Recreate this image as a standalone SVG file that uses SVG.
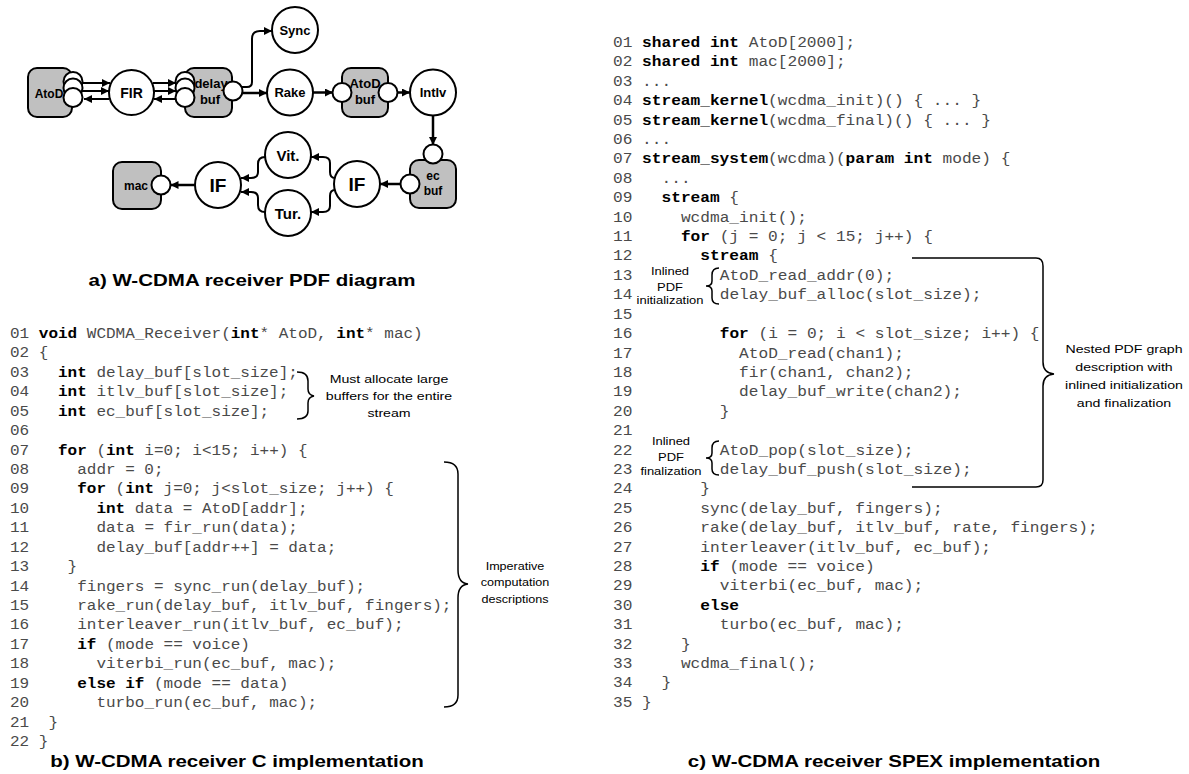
<svg xmlns="http://www.w3.org/2000/svg" width="1189" height="774" viewBox="0 0 1189 774">
<style>
  .lbl{font-family:"Liberation Sans",Arial,sans-serif;font-weight:bold;fill:#000;text-anchor:middle}
  .box{fill:#c0c0c0;stroke:#000;stroke-width:2}
  .node{fill:#fff;stroke:#000;stroke-width:2}
  .port{fill:#fff;stroke:#000;stroke-width:2}
  .edge{fill:none;stroke:#000;stroke-width:2;marker-end:url(#ah)}
  .code{font-family:"Liberation Mono","Courier New",monospace;font-size:15px;fill:#4a4a4a}
  .k{font-weight:bold;fill:#000}
  .note{font-family:"Liberation Sans",Arial,sans-serif;font-size:11.8px;fill:#000;text-anchor:middle}
  .title{font-family:"Liberation Sans",Arial,sans-serif;font-size:17.1px;font-weight:bold;fill:#000;text-anchor:middle}
  .brace{fill:none;stroke:#000;stroke-width:1.5}
</style>
<defs>
  <marker id="ah" viewBox="0 0 10 10" refX="10" refY="5" markerWidth="9" markerHeight="8" markerUnits="userSpaceOnUse" orient="auto"><path d="M0,0 L10,5 L0,10 z" fill="#000"/></marker>
</defs>
<rect width="1189" height="774" fill="#fff"/>

<!-- connectors of the PDF graph -->
<g id="connectors">
  <path class="edge" d="M82,83 H110"/>
  <path class="edge" d="M82,91 H109"/>
  <path class="edge" d="M109,99 H84"/>
  <path class="edge" d="M153,83 H176"/>
  <path class="edge" d="M153,91 H176"/>
  <path class="edge" d="M176,99 H154"/>
  <path class="edge" d="M242,87 H247 Q252,87 252,82 V39 Q252,31 260,31 H272"/>
  <path class="edge" d="M242.5,93 H267" style="stroke-width:2.5"/>
  <path class="edge" d="M313,92.5 H333" style="stroke-width:2.5"/>
  <path class="edge" d="M397.5,92.5 H410" style="stroke-width:2.5"/>
  <path class="edge" d="M433,115.5 V145" style="stroke-width:2.5"/>
  <path class="edge" d="M400.5,184 H380" style="stroke-width:2.5"/>
  <path class="edge" d="M335,178 Q330,178 330,172 V163 Q330,157 323,157 H311"/>
  <path class="edge" d="M335,190 Q330,190 330,196 V206 Q330,212 323,212 H311"/>
  <path class="edge" d="M265,157 Q258,157 258,164 V172 Q258,178 251,178 H241"/>
  <path class="edge" d="M265,212 Q258,212 258,205 V198 Q258,192 251,192 H241"/>
  <path class="edge" d="M195,185 H170.5" style="stroke-width:2.5"/>
</g>

<!-- PDF graph nodes -->
<g id="atod">
  <rect class="box" x="28" y="68" width="44" height="49" rx="9"/>
  <text class="lbl" x="49" y="97.5" font-size="12">AtoD</text>
  <circle class="port" cx="73" cy="81.5" r="9.5"/>
  <circle class="port" cx="73" cy="88" r="9.5"/>
  <circle class="port" cx="73" cy="97.5" r="9.5"/>
</g>
<g id="fir">
  <circle class="node" cx="131.5" cy="92.5" r="22.5"/>
  <text class="lbl" x="131.5" y="97.5" font-size="14">FIR</text>
</g>
<g id="delay-buf">
  <rect class="box" x="185" y="68" width="47" height="49" rx="9"/>
  <text class="lbl" x="211" y="88" font-size="13">delay</text>
  <text class="lbl" x="210" y="104" font-size="13">buf</text>
  <circle class="port" cx="185" cy="81.5" r="9.5"/>
  <circle class="port" cx="185" cy="88" r="9.5"/>
  <circle class="port" cx="185" cy="97.5" r="9.5"/>
  <circle class="port" cx="233" cy="91" r="9.5"/>
</g>
<g id="sync">
  <circle class="node" cx="295" cy="30" r="23"/>
  <text class="lbl" x="295" y="34.5" font-size="13">Sync</text>
</g>
<g id="rake">
  <circle class="node" cx="290" cy="92.5" r="23"/>
  <text class="lbl" x="290" y="97" font-size="13">Rake</text>
</g>
<g id="atod-buf">
  <rect class="box" x="342" y="68" width="46" height="49" rx="9"/>
  <text class="lbl" x="365" y="88" font-size="13">AtoD</text>
  <text class="lbl" x="365" y="104" font-size="13">buf</text>
  <circle class="port" cx="342" cy="92.5" r="9.5"/>
  <circle class="port" cx="388" cy="92.5" r="9.5"/>
</g>
<g id="intlv">
  <circle class="node" cx="433" cy="92.5" r="23"/>
  <text class="lbl" x="433" y="97" font-size="13">Intlv</text>
</g>
<g id="ec-buf">
  <rect class="box" x="410" y="160" width="46" height="48" rx="9"/>
  <text class="lbl" x="433" y="180" font-size="12">ec</text>
  <text class="lbl" x="433" y="195" font-size="12">buf</text>
  <circle class="port" cx="433" cy="154" r="9.5"/>
  <circle class="port" cx="410" cy="184" r="9.5"/>
</g>
<g id="if-split">
  <circle class="node" cx="357" cy="184" r="23"/>
  <text class="lbl" x="357" y="191" font-size="19">IF</text>
</g>
<g id="vit">
  <circle class="node" cx="288" cy="155" r="23"/>
  <text class="lbl" x="288" y="160.5" font-size="15">Vit.</text>
</g>
<g id="tur">
  <circle class="node" cx="288" cy="213" r="23"/>
  <text class="lbl" x="288" y="218.5" font-size="15">Tur.</text>
</g>
<g id="if-join">
  <circle class="node" cx="218" cy="185" r="23"/>
  <text class="lbl" x="218" y="192" font-size="19">IF</text>
</g>
<g id="mac">
  <rect class="box" x="113" y="162" width="48" height="47" rx="9"/>
  <text class="lbl" x="136" y="189.5" font-size="12">mac</text>
  <circle class="port" cx="161" cy="185" r="9.5"/>
</g>

<text class="title" transform="translate(252,286) scale(1.2,1)">a) W-CDMA receiver PDF diagram</text>

<!-- C implementation listing (monospace, 9.6 px per column) -->
<g id="c-listing" class="code" transform="translate(10,0) scale(1.0667,1)">
  <text x="0" y="338">01 <tspan class="k">void</tspan> WCDMA_Receiver(<tspan class="k">int</tspan>* AtoD, <tspan class="k">int</tspan>* mac)</text>
  <text x="0" y="357.4">02 {</text>
  <text x="0" y="376.9">03<tspan x="45"><tspan class="k">int</tspan> delay_buf[slot_size];</tspan></text>
  <text x="0" y="396.3">04<tspan x="45"><tspan class="k">int</tspan> itlv_buf[slot_size];</tspan></text>
  <text x="0" y="415.7">05<tspan x="45"><tspan class="k">int</tspan> ec_buf[slot_size];</tspan></text>
  <text x="0" y="435.2">06</text>
  <text x="0" y="454.6">07<tspan x="45"><tspan class="k">for</tspan> (<tspan class="k">int</tspan> i=0; i&lt;15; i++) {</tspan></text>
  <text x="0" y="474">08<tspan x="63">addr = 0;</tspan></text>
  <text x="0" y="493.4">09<tspan x="63"><tspan class="k">for</tspan> (<tspan class="k">int</tspan> j=0; j&lt;slot_size; j++) {</tspan></text>
  <text x="0" y="512.9">10<tspan x="81"><tspan class="k">int</tspan> data = AtoD[addr];</tspan></text>
  <text x="0" y="532.3">11<tspan x="81">data = fir_run(data);</tspan></text>
  <text x="0" y="551.7">12<tspan x="81">delay_buf[addr++] = data;</tspan></text>
  <text x="0" y="571.2">13<tspan x="54">}</tspan></text>
  <text x="0" y="590.6">14<tspan x="63">fingers = sync_run(delay_buf);</tspan></text>
  <text x="0" y="610">15<tspan x="63">rake_run(delay_buf, itlv_buf, fingers);</tspan></text>
  <text x="0" y="629.4">16<tspan x="63">interleaver_run(itlv_buf, ec_buf);</tspan></text>
  <text x="0" y="648.9">17<tspan x="63"><tspan class="k">if</tspan> (mode == voice)</tspan></text>
  <text x="0" y="668.3">18<tspan x="81">viterbi_run(ec_buf, mac);</tspan></text>
  <text x="0" y="687.7">19<tspan x="63"><tspan class="k">else if</tspan> (mode == data)</tspan></text>
  <text x="0" y="707.2">20<tspan x="81">turbo_run(ec_buf, mac);</tspan></text>
  <text x="0" y="726.6">21<tspan x="36">}</tspan></text>
  <text x="0" y="746">22 }</text>
</g>

<path class="brace" d="M297,372 Q308,372 308,381 V389 Q308,395 314,396 Q308,397 308,403 V411 Q308,419 297,419"/>
<text class="note" transform="translate(389,383) scale(1.2,1)">Must allocate large<tspan x="0" dy="17">buffers for the entire</tspan><tspan x="0" dy="17">stream</tspan></text>

<path class="brace" d="M444,462 Q458,462 458,474 V570 Q458,583 468,584 Q458,585 458,598 V695 Q458,707 444,707"/>
<text class="note" transform="translate(515,570) scale(1.2,1)" style="font-size:10.5px">Imperative<tspan x="0" dy="16.5">computation</tspan><tspan x="0" dy="16.5">descriptions</tspan></text>

<text class="title" transform="translate(237,767) scale(1.2,1)">b) W-CDMA receiver C implementation</text>

<!-- SPEX implementation listing (monospace, 9.7 px per column) -->
<g id="spex-listing" class="code" transform="translate(613,0) scale(1.0778,1)">
  <text x="0" y="47">01 <tspan class="k">shared int</tspan> AtoD[2000];</text>
  <text x="0" y="66.4">02 <tspan class="k">shared int</tspan> mac[2000];</text>
  <text x="0" y="85.8">03 ...</text>
  <text x="0" y="105.2">04 <tspan class="k">stream_kernel</tspan>(wcdma_init)() { ... }</text>
  <text x="0" y="124.6">05 <tspan class="k">stream_kernel</tspan>(wcdma_final)() { ... }</text>
  <text x="0" y="144.1">06 ...</text>
  <text x="0" y="163.5">07 <tspan class="k">stream_system</tspan>(wcdma)(<tspan class="k">param int</tspan> mode) {</text>
  <text x="0" y="182.9">08<tspan x="45">...</tspan></text>
  <text x="0" y="202.3">09<tspan x="45"><tspan class="k">stream</tspan> {</tspan></text>
  <text x="0" y="221.7">10<tspan x="63">wcdma_init();</tspan></text>
  <text x="0" y="241.1">11<tspan x="63"><tspan class="k">for</tspan> (j = 0; j &lt; 15; j++) {</tspan></text>
  <text x="0" y="260.5">12<tspan x="81"><tspan class="k">stream</tspan> {</tspan></text>
  <text x="0" y="279.9">13<tspan x="99">AtoD_read_addr(0);</tspan></text>
  <text x="0" y="299.3">14<tspan x="99">delay_buf_alloc(slot_size);</tspan></text>
  <text x="0" y="318.7">15</text>
  <text x="0" y="338.1">16<tspan x="99"><tspan class="k">for</tspan> (i = 0; i &lt; slot_size; i++) {</tspan></text>
  <text x="0" y="357.6">17<tspan x="117">AtoD_read(chan1);</tspan></text>
  <text x="0" y="377">18<tspan x="117">fir(chan1, chan2);</tspan></text>
  <text x="0" y="396.4">19<tspan x="117">delay_buf_write(chan2);</tspan></text>
  <text x="0" y="415.8">20<tspan x="99">}</tspan></text>
  <text x="0" y="435.2">21</text>
  <text x="0" y="454.6">22<tspan x="99">AtoD_pop(slot_size);</tspan></text>
  <text x="0" y="474">23<tspan x="99">delay_buf_push(slot_size);</tspan></text>
  <text x="0" y="493.4">24<tspan x="81">}</tspan></text>
  <text x="0" y="512.8">25<tspan x="81">sync(delay_buf, fingers);</tspan></text>
  <text x="0" y="532.2">26<tspan x="81">rake(delay_buf, itlv_buf, rate, fingers);</tspan></text>
  <text x="0" y="551.6">27<tspan x="81">interleaver(itlv_buf, ec_buf);</tspan></text>
  <text x="0" y="571">28<tspan x="81"><tspan class="k">if</tspan> (mode == voice)</tspan></text>
  <text x="0" y="590.5">29<tspan x="99">viterbi(ec_buf, mac);</tspan></text>
  <text x="0" y="609.9">30<tspan x="81" class="k">else</tspan></text>
  <text x="0" y="629.3">31<tspan x="99">turbo(ec_buf, mac);</tspan></text>
  <text x="0" y="648.7">32<tspan x="63">}</tspan></text>
  <text x="0" y="668.1">33<tspan x="63">wcdma_final();</tspan></text>
  <text x="0" y="687.5">34<tspan x="45">}</tspan></text>
  <text x="0" y="706.9">35 }</text>
</g>

<path class="brace" d="M719,268 Q712,268 712,275 V281 Q712,286 706,286 Q712,286 712,291 V298 Q712,304 719,304"/>
<text class="note" transform="translate(670,275) scale(1.2,1)" style="font-size:10.8px">Inlined<tspan x="0" dy="16">PDF</tspan><tspan x="0" dy="13">initialization</tspan></text>

<path class="brace" d="M719,441 Q712,441 712,448 V453 Q712,458 706,458 Q712,458 712,463 V469 Q712,475 719,475"/>
<text class="note" transform="translate(671,445) scale(1.2,1)" style="font-size:10.8px">Inlined<tspan x="0" dy="16">PDF</tspan><tspan x="0" dy="14">finalization</tspan></text>

<path class="brace" d="M912,258 H1036 Q1043,258 1043,266 V362 Q1043,373 1054,374 Q1043,375 1043,386 V480 Q1043,487 1036,487 H912"/>
<text class="note" transform="translate(1124,353) scale(1.2,1)">Nested PDF graph<tspan x="0" dy="18">description with</tspan><tspan x="0" dy="18">inlined initialization</tspan><tspan x="0" dy="18">and finalization</tspan></text>

<text class="title" transform="translate(894,767) scale(1.2,1)">c) W-CDMA receiver SPEX implementation</text>
</svg>
